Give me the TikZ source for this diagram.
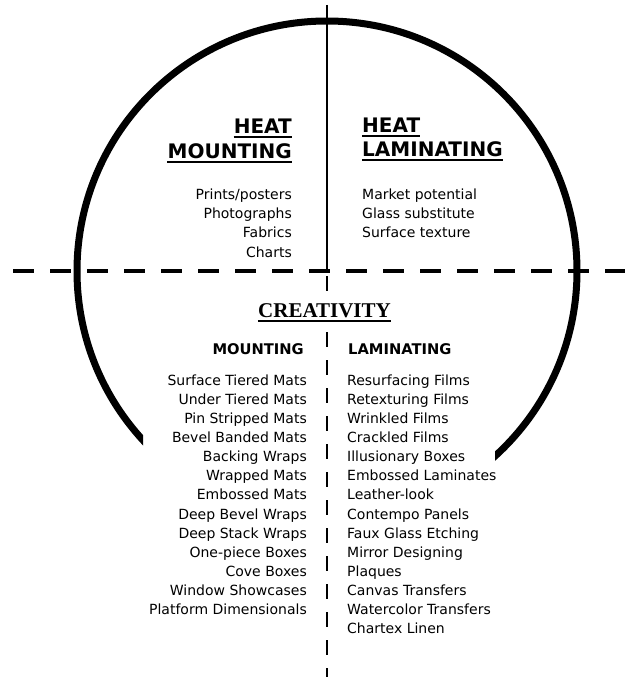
\documentclass[tikz,border=0pt]{standalone}
\usepackage{fontspec}
\setmainfont{DejaVu Sans}
\newfontfamily\creafont{Liberation Serif}
\tikzset{
  item/.style={inner sep=0pt,font=\fontsize{14}{17}\selectfont},
  heading/.style={inner sep=0pt,font=\fontsize{20}{24}\selectfont\bfseries},
  subhead/.style={inner sep=0pt,font=\fontsize{14.7}{17}\selectfont\bfseries},
  underl/.style={line width=2.3pt},
}
\begin{document}
\begin{tikzpicture}[x=1pt,y=-1pt]
  \useasboundingbox (0,0) rectangle (625,677);
  \coordinate (top) at (327,5);
  \coordinate (mid) at (327,271);
  \coordinate (bot) at (327,677);
  \coordinate (west) at (13,271);
  \coordinate (east) at (625,271);
  % ring, cut open behind the lists
  \begin{scope}
    \clip (0,0) -- (625,0) -- (625,677) -- (495,677) -- (495,300) -- (143,300) -- (143,677) -- (0,677) -- cycle;
    \draw[line width=7pt] (mid) circle[radius=250pt];
  \end{scope}
  \draw[line width=4.5pt,dash pattern=on 21pt off 16pt] (west) -- (east);
  \draw[line width=2.5pt] (top) -- (mid);
  \draw[line width=2.8pt,dash pattern=on 15pt off 13pt,dash phase=23pt] (mid) -- (bot);
  % upper half
  \node[heading,anchor=base east] (hm1) at (292,133) {HEAT};
  \node[heading,anchor=base east] (hm2) at (292,158) {MOUNTING};
  \node[heading,anchor=base west] (hl1) at (362,132) {HEAT};
  \node[heading,anchor=base west] (hl2) at (362,156) {LAMINATING};
  \foreach \n in {hm1,hm2,hl1,hl2}
    \draw[underl] ([yshift=-4pt]\n.base west) -- ([yshift=-4pt]\n.base east);
  \foreach \t [count=\i] in {{Prints/posters},Photographs,Fabrics,Charts}
    \node[item,anchor=base east] (hm-\i) at (292,{199.5+19.2*(\i-1)}) {\t};
  \foreach \t [count=\i] in {Market potential,Glass substitute,Surface texture}
    \node[item,anchor=base west] (hl-\i) at (362,{199.5+19.2*(\i-1)}) {\t};
  % lower half
  \node[font=\creafont\bfseries\fontsize{21}{24}\selectfont,fill=white,inner xsep=0pt,inner ysep=3pt,anchor=base] (crea) at (324.5,317.5) {CREATIVITY};
  \draw[line width=1.3pt] ([yshift=-3.5pt]crea.base west) -- ([yshift=-3.5pt]crea.base east);
  \node[subhead,anchor=base east] (mnt) at (304,354) {MOUNTING};
  \node[subhead,anchor=base west] (lam) at (348,354) {LAMINATING};
  \foreach \t [count=\i] in {Surface Tiered Mats,Under Tiered Mats,Pin Stripped Mats,Bevel Banded Mats,Backing Wraps,Wrapped Mats,Embossed Mats,Deep Bevel Wraps,Deep Stack Wraps,One-piece Boxes,Cove Boxes,Window Showcases,Platform Dimensionals}
    \node[item,anchor=base east] (mnt-\i) at (307,{385+19.15*(\i-1)}) {\t};
  \foreach \t [count=\i] in {Resurfacing Films,Retexturing Films,Wrinkled Films,Crackled Films,Illusionary Boxes,Embossed Laminates,Leather-look,Contempo Panels,Faux Glass Etching,Mirror Designing,Plaques,Canvas Transfers,Watercolor Transfers,Chartex Linen}
    \node[item,anchor=base west] (lam-\i) at (347,{385+19.15*(\i-1)}) {\t};
\end{tikzpicture}
\end{document}
